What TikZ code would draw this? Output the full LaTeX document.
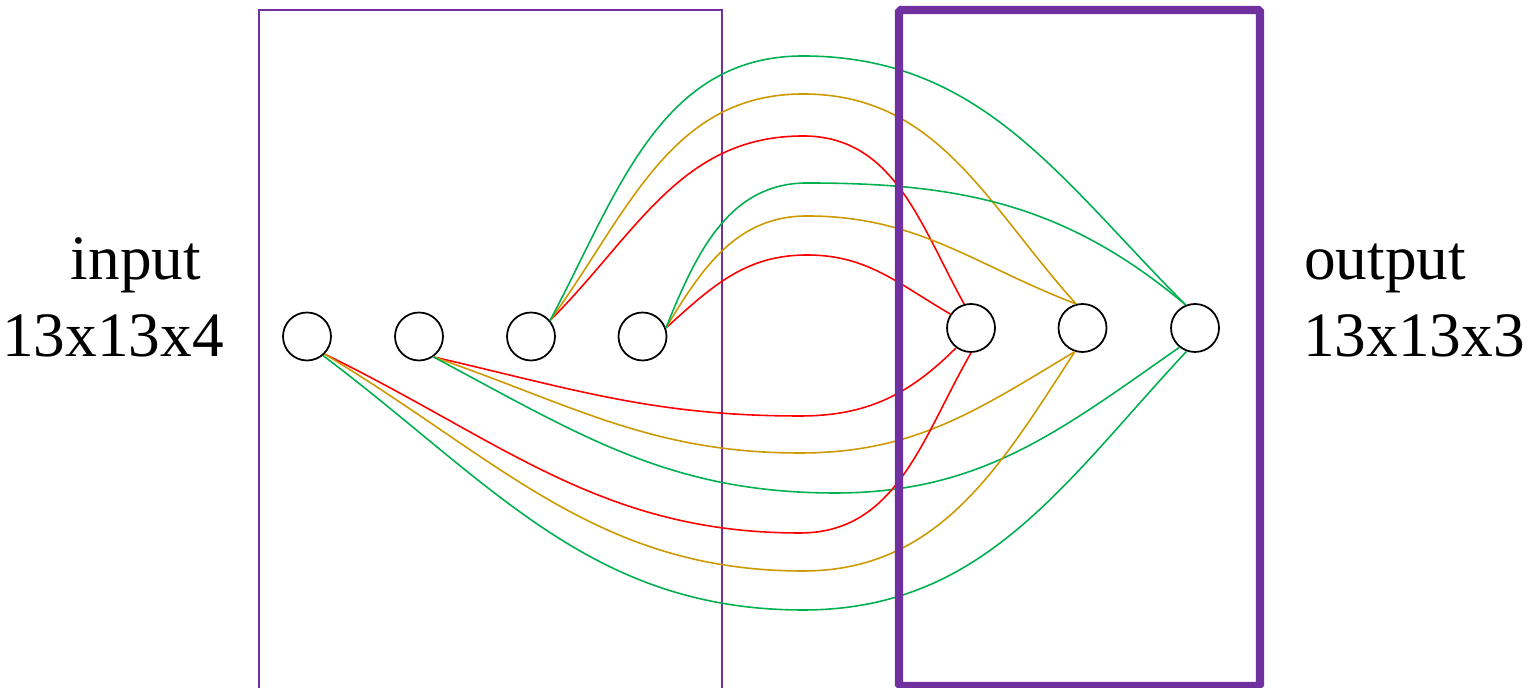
\documentclass[tikz,border=0pt]{standalone}
\usepackage{fontspec}
\setmainfont{Liberation Serif}
\definecolor{pptred}{RGB}{255,0,0}
\definecolor{pptgold}{RGB}{204,153,0}
\definecolor{pptgreen}{RGB}{0,176,80}
\definecolor{pptpurple}{RGB}{112,48,160}

\begin{document}
\begin{tikzpicture}[
  neuron/.style={draw, circle, fill=white, line width=0.5pt, minimum size=0.48cm, inner sep=0pt},
  link/.style={line width=0.45pt},
  lbl/.style={font=\fontsize{18}{22}\selectfont, anchor=base, inner sep=0pt}]
  \useasboundingbox (0,0) rectangle (15.28,6.88);
  \draw[pptpurple, line width=0.55pt] (2.59,0) |- (7.22,6.78) -- (7.22,0);

  \node[neuron] (i1) at (3.07,3.515) {};
  \node[neuron] (i2) at (4.19,3.515) {};
  \node[neuron] (i3) at (5.31,3.515) {};
  \node[neuron] (i4) at (6.425,3.515) {};
  \node[neuron] (o1) at (9.71,3.60) {};
  \node[neuron] (o2) at (10.825,3.60) {};
  \node[neuron] (o3) at (11.95,3.60) {};

  % upper links
  \draw[link, pptred] (i3.40) to[out=45,in=180] (8.03,5.52) to[out=0,in=119] (o1.106);
  \draw[link, pptgold] (i3.40) to[out=54,in=180] (8.03,5.94) to[out=0,in=132] (o2.105);
  \draw[link, pptgreen] (i3.40) to[out=62,in=180] (8.03,6.32) to[out=0,in=135] (o3.112);
  \draw[link, pptred] (i4.20) to[out=42,in=180] (8.07,4.33) to[out=0,in=150] (o1.146);
  \draw[link, pptgold] (i4.20) to[out=59,in=180] (8.07,4.72) to[out=0,in=159] (o2.105);
  \draw[link, pptgreen] (i4.20) to[out=68,in=180] (8.07,5.05) to[out=0,in=140] (o3.112);
  % lower links
  \draw[link, pptred] (i2.-55) to[out=-13,in=180] (8.00,2.72) to[out=0,in=225] (o1.233);
  \draw[link, pptgold] (i2.-55) to[out=-19,in=180] (8.00,2.35) to[out=0,in=211] (o2.252);
  \draw[link, pptgreen] (i2.-55) to[out=-28,in=180] (8.35,1.95) to[out=0,in=215] (o3.231);
  \draw[link, pptred] (i1.-45) to[out=-26,in=180] (8.00,1.55) to[out=0,in=240] (o1.270);
  \draw[link, pptgold] (i1.-45) to[out=-31,in=180] (8.03,1.17) to[out=0,in=237] (o2.252);
  \draw[link, pptgreen] (i1.-50) to[out=-37,in=180] (8.03,0.78) to[out=0,in=227] (o3.250);

  \draw[pptpurple, line width=2.3pt, rounded corners=0.5pt] (8.99,0.02) rectangle (12.60,6.78);

  \node[lbl] (inname) at (1.36,4.08) {input};
  \node[lbl] (insize) at (1.13,3.31) {13x13x4};
  \node[lbl] (outname) at (13.85,4.08) {output};
  \node[lbl] (outsize) at (14.14,3.31) {13x13x3};
\end{tikzpicture}
\end{document}
